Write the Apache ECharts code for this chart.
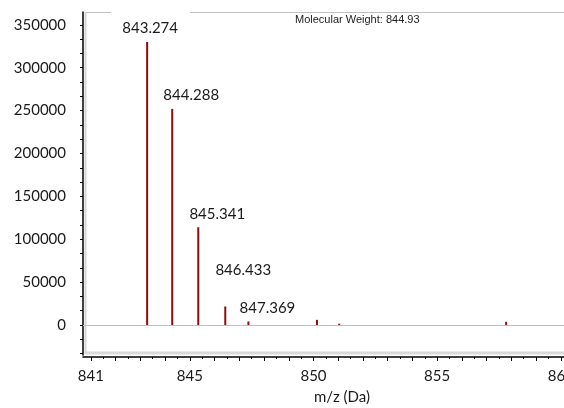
<!DOCTYPE html>
<html>
<head>
<meta charset="utf-8">
<script src="https://cdn.jsdelivr.net/npm/echarts@6/dist/echarts.min.js"></script>
<style>
html,body{margin:0;padding:0;background:#fff;}
#chart{width:564px;height:408px;}
</style>
</head>
<body>
<div id="chart"></div>
<script>
// ---- data ----
var peakMz = [843.274, 844.288, 845.341, 846.433, 847.369, 850.14, 851.04, 857.79];
var peakIntensity = [330000, 252000, 114000, 21600, 4100, 6000, 1500, 3700];
var peakLabels = ['843.274', '844.288', '845.341', '846.433', '847.369', '', '', ''];
var xTickLabels = [841, 845, 850, 855, 860];
var yTickLabels = [0, 50000, 100000, 150000, 200000, 250000, 300000, 350000];
var xAxisTitle = 'm/z (Da)';
var noteText = 'Molecular Weight: 844.93';

// ---- axis tick positions ----
var xMajorTicks = [], xMinorTicks = [];
for (var v = 841; v <= 860; v++) { xMajorTicks.push(v); xMinorTicks.push(v + 0.5); }
var yTicks = [];
for (var k = -2; k <= 21; k++) { yTicks.push(k * 50000 / 3); }

var FONT = 'Lato';
var peakColor = '#8f0b0b';

// label placement tweaks (style only)
var labelOffsetOverride = { 0: [3, 0], 3: [18, -23] };

var barData = peakMz.map(function (x, i) {
  var d = { value: [x, peakIntensity[i]] };
  if (peakLabels[i]) {
    d.label = { show: true, formatter: peakLabels[i], offset: labelOffsetOverride[i] || [19, 0] };
  }
  return d;
});

var chart = echarts.init(document.getElementById('chart'), null, { renderer: 'canvas' });
chart.setOption({
  animation: false,
  backgroundColor: '#fff',
  grid: { left: 83, top: 12, right: 0, height: 343, containLabel: false, outerBoundsMode: 'none' },
  xAxis: [{
    type: 'value', min: 840.68, max: 860.13,
    axisLine: { show: true, onZero: false, lineStyle: { color: '#000', width: 1.5 } },
    axisTick: { show: true, customValues: xMajorTicks, length: 4, lineStyle: { color: '#000' } },
    axisLabel: { customValues: xTickLabels, margin: 12, fontFamily: FONT, fontSize: 15, color: '#1a1a1a',
      formatter: function (val) { return String(val); } },
    splitLine: { show: false },
    offset: 2
  }, {
    type: 'value', min: 840.68, max: 860.13, position: 'bottom',
    axisLine: { show: false, onZero: false },
    axisTick: { show: true, customValues: xMinorTicks, length: 2, lineStyle: { color: '#000' } },
    axisLabel: { show: false },
    splitLine: { show: false },
    offset: 2
  }],
  yAxis: {
    type: 'value', min: -35000, max: 365000,
    axisLine: { show: true, onZero: false, lineStyle: { color: '#000', width: 1.5 } },
    axisTick: { show: true, customValues: yTicks, length: 3, lineStyle: { color: '#000' } },
    axisLabel: { customValues: yTickLabels, margin: 17, fontFamily: FONT, fontSize: 15, color: '#1a1a1a',
      formatter: function (val) { return String(val); } },
    splitLine: { show: false }
  },
  graphic: [
    { type: 'line', shape: { x1: 85.5, y1: 12, x2: 85.5, y2: 354 }, style: { stroke: '#d6d6d6', lineWidth: 2 }, z: 1 },
    { type: 'line', shape: { x1: 86, y1: 12.5, x2: 111, y2: 12.5 }, style: { stroke: '#c0c0c0', lineWidth: 1 }, z: 1 },
    { type: 'line', shape: { x1: 190, y1: 12.5, x2: 564, y2: 12.5 }, style: { stroke: '#c0c0c0', lineWidth: 1 }, z: 1 },
    { type: 'line', shape: { x1: 86, y1: 353, x2: 564, y2: 353 }, style: { stroke: '#d9d9d9', lineWidth: 3 }, z: 1 },
    { type: 'text', x: 295, y: 20, style: { text: noteText, font: '11px "Liberation Sans", Arial, sans-serif', fill: '#222', textVerticalAlign: 'middle' }, z: 5 },
    { type: 'text', x: 342, y: 397, style: { text: xAxisTitle, font: '15px Lato', fill: '#1a1a1a', textAlign: 'center', textVerticalAlign: 'middle' }, z: 5 }
  ],
  series: [{
    type: 'bar',
    barWidth: 2,
    itemStyle: { color: peakColor },
    label: { show: false, position: 'top', distance: 6, fontFamily: FONT, fontSize: 15, color: '#1a1a1a' },
    data: barData,
    markLine: {
      silent: true, symbol: 'none', label: { show: false },
      lineStyle: { color: '#c0c0c0', width: 1, type: 'solid' },
      data: [{ yAxis: 0 }],
      z: 1
    },
    z: 3
  }]
});
</script>
</body>
</html>
